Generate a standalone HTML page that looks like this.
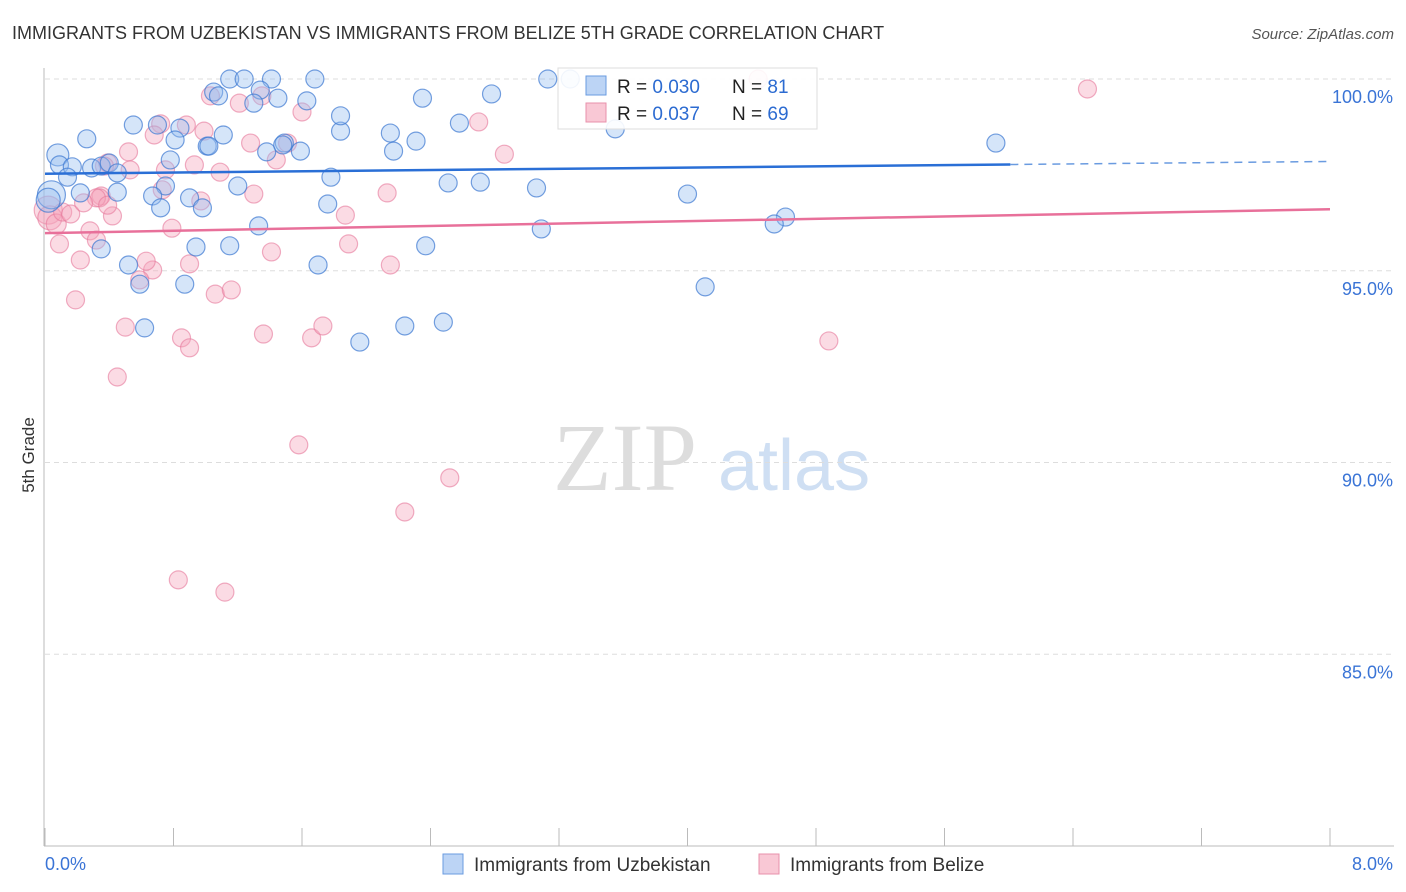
<!DOCTYPE html>
<html><head><meta charset="utf-8"><style>
body{margin:0;background:#fff;font-family:"Liberation Sans",sans-serif;}
svg{display:block}
</style></head><body>
<svg id="chart" width="1406" height="892">
<text x="12" y="39" font-size="18" fill="#333">IMMIGRANTS FROM UZBEKISTAN VS IMMIGRANTS FROM BELIZE 5TH GRADE CORRELATION CHART</text>
<text x="1394" y="39" font-size="15" fill="#555" font-style="italic" text-anchor="end">Source: ZipAtlas.com</text>
<text x="34" y="455" font-size="17" fill="#333" transform="rotate(-90 34 455)" text-anchor="middle">5th Grade</text>
<g><text x="553" y="490" font-size="96" font-family="Liberation Serif,serif" fill="#ddd">ZIP</text><text x="718" y="490" font-size="72" fill="#cfdff3">atlas</text></g>
<g id="grid"></g><g id="marks"></g><g id="lines"></g>
<g>
<rect x="558" y="68" width="259" height="61" fill="#fff" fill-opacity="0.9" stroke="#ddd"/>
<rect x="586" y="76" width="20" height="19" fill="#bcd4f5" stroke="#6a9be0"/>
<rect x="586" y="103" width="20" height="19" fill="#f9c8d5" stroke="#e891ab"/>
<text x="617" y="93" font-size="19" fill="#222">R = <tspan fill="#2c6bd1">0.030</tspan></text>
<text x="732" y="93" font-size="19" fill="#222">N = <tspan fill="#2c6bd1"> 81</tspan></text>
<text x="617" y="120" font-size="19" fill="#222">R = <tspan fill="#2c6bd1"> 0.037</tspan></text>
<text x="732" y="120" font-size="19" fill="#222">N = <tspan fill="#2c6bd1">69</tspan></text>
</g>
<g>
<rect x="443" y="854" width="20" height="20" fill="#bcd4f5" stroke="#6a9be0"/>
<text x="474" y="871" font-size="19" fill="#333">Immigrants from Uzbekistan</text>
<rect x="759" y="854" width="20" height="20" fill="#f9c8d5" stroke="#e891ab"/>
<text x="790" y="871" font-size="19" fill="#333">Immigrants from Belize</text>
</g>
</svg>
<script>
const yTicks=[100,95,90,85];
const yTickLabels=["100.0%","95.0%","90.0%","85.0%"];
const xTickCount=10;
const xEndLabels=["0.0%","8.0%"];
const blueX=[1.15,1.24,1.41,1.68,3.13,3.27,1.05,1.08,1.34,1.30,1.63,1.45,2.35,2.78,0.55,0.70,0.84,0.26,0.81,1.11,1.01,1.02,1.49,1.59,1.84,1.84,2.15,2.17,2.31,2.58,3.55,5.92,0.08,0.09,0.17,0.29,0.35,0.40,0.14,0.45,0.78,1.38,1.48,1.78,0.22,0.45,0.04,0.02,0.75,1.20,2.51,2.71,3.06,4.00,0.67,0.90,0.98,0.72,1.76,1.33,3.09,4.61,4.54,0.35,0.94,1.15,2.37,0.52,1.70,0.59,0.87,4.11,0.62,1.96,2.24,2.48];
const blueY=[100,100,100,100,100,100,99.66,99.56,99.71,99.37,99.43,99.50,99.50,99.61,98.80,98.80,98.72,98.44,98.41,98.54,98.25,98.25,98.33,98.12,98.64,99.04,98.59,98.12,98.38,98.85,98.70,98.33,98.02,97.76,97.71,97.68,97.73,97.81,97.44,97.55,97.89,98.10,98.28,97.44,97.03,97.05,96.98,96.84,97.21,97.21,97.29,97.31,97.16,97.00,96.95,96.90,96.64,96.64,96.74,96.17,96.09,96.40,96.22,95.57,95.62,95.65,95.65,95.15,95.15,94.65,94.65,94.58,93.51,93.14,93.56,93.66];
const blueR=[9,9,9,9,9,9,9,9,9,9,9,9,9,9,9,9,9,9,9,9,9,9,9,9,9,9,9,9,9,9,9,9,11,9,9,9,9,9,9,9,9,9,9,9,9,9,14,12,9,9,9,9,9,9,9,9,9,9,9,9,9,9,9,9,9,9,9,9,9,9,9,9,9,9,9,9];
const pinkX=[0.02,0.03,0.07,0.11,0.16,0.09,0.22,0.19,0.28,0.32,0.45,0.50,0.67,0.63,0.59,0.35,0.42,0.34,0.53,0.52,0.39,0.37,0.72,0.68,0.88,0.99,1.03,1.21,1.35,1.28,1.44,1.51,1.60,0.93,1.09,1.30,0.97,0.75,0.73,0.79,0.90,1.06,1.16,1.41,0.85,0.90,1.36,1.66,1.73,1.87,1.89,2.13,2.15,2.86,2.70,1.58,2.52,2.24,0.83,1.12,4.88,4.44,6.49,0.32,0.24,0.39];
const pinkY=[96.58,96.38,96.22,96.53,96.48,95.70,95.28,94.24,96.04,95.80,92.23,93.53,95.02,95.25,94.76,96.95,96.43,96.90,97.63,98.10,97.81,97.73,98.83,98.54,98.80,98.64,99.56,99.37,99.56,98.33,97.89,98.33,99.14,97.76,97.57,97.00,96.82,97.63,97.11,96.11,95.18,94.39,94.50,95.49,93.25,92.99,93.35,93.25,93.56,96.45,95.70,97.03,95.15,98.04,98.88,90.46,89.60,88.71,86.94,86.62,93.17,100,99.74,96.90,96.77,96.71];
const pinkR=[14,12,10,9,9,9,9,9,9,9,9,9,9,9,9,9,9,9,9,9,9,9,9,9,9,9,9,9,9,9,9,9,9,9,9,9,9,9,9,9,9,9,9,9,9,9,9,9,9,9,9,9,9,9,9,9,9,9,9,9,9,9,9,9,9,9];
const blueTrend=[97.53,0.04];
const pinkTrend=[95.98,0.078];
const X0=45,X1=1330,XMAX=8,Y100=79,PXPER=38.35;
const xs=v=>X0+v*(X1-X0)/XMAX;
const ys=v=>Y100+(100-v)*PXPER;
const NS="http://www.w3.org/2000/svg";
function mk(t,a,p){const e=document.createElementNS(NS,t);for(const k in a)e.setAttribute(k,a[k]);p.appendChild(e);return e;}
const grid=document.getElementById('grid');
yTicks.forEach((t,i)=>{
 const l=mk('line',{x1:45,x2:1394,y1:ys(t),y2:ys(t),stroke:'#ddd','stroke-dasharray':'5,4'},grid);
 
 
 const tx=mk('text',{x:1393,y:ys(t)+24,'font-size':18,fill:'#3a74d6','text-anchor':'end'},grid);
 tx.textContent=yTickLabels[i];
 
 
});
const ax=mk('line',{x1:44,x2:44,y1:68,y2:846,stroke:'#bbb'},grid);


const bx=mk('line',{x1:44,x2:1394,y1:846,y2:846,stroke:'#bbb'},grid);


for(let i=0;i<=xTickCount;i++){
 const t=mk('line',{x1:xs(i*XMAX/xTickCount),x2:xs(i*XMAX/xTickCount),y1:828,y2:846,stroke:'#bbb'},grid);
 
 
}
[[xs(0),'start'],[1393,'end']].forEach((p,i)=>{
 const t=mk('text',{x:p[0],y:870,'font-size':18,fill:'#3a74d6','text-anchor':p[1]},grid);
 t.textContent=xEndLabels[i];
 
 
});
const marks=document.getElementById('marks');
pinkX.forEach((v,i)=>{
 const c=mk('circle',{cx:xs(v),cy:ys(pinkY[i]),r:pinkR[i],fill:'rgba(245,165,188,0.4)',stroke:'rgba(230,120,155,0.6)','stroke-width':1.2},marks);
 
 
});
blueX.forEach((v,i)=>{
 const c=mk('circle',{cx:xs(v),cy:ys(blueY[i]),r:blueR[i],fill:'rgba(150,190,240,0.4)',stroke:'rgba(60,120,210,0.7)','stroke-width':1.2},marks);
 
 
});
const lines=document.getElementById('lines');
const bEnd=6.01;
const b1=mk('line',{x1:xs(0),y1:ys(blueTrend[0]),x2:xs(bEnd),y2:ys(blueTrend[0]+blueTrend[1]*bEnd),stroke:'#2a6fd6','stroke-width':2.5},lines);


const b2=mk('line',{x1:xs(bEnd),y1:ys(blueTrend[0]+blueTrend[1]*bEnd),x2:xs(XMAX),y2:ys(blueTrend[0]+blueTrend[1]*XMAX),stroke:'#6a9be0','stroke-width':1.5,'stroke-dasharray':'8,6'},lines);


const p1=mk('line',{x1:xs(0),y1:ys(pinkTrend[0]),x2:xs(XMAX),y2:ys(pinkTrend[0]+pinkTrend[1]*XMAX),stroke:'#e8709a','stroke-width':2.5},lines);


</script>
</body></html>
